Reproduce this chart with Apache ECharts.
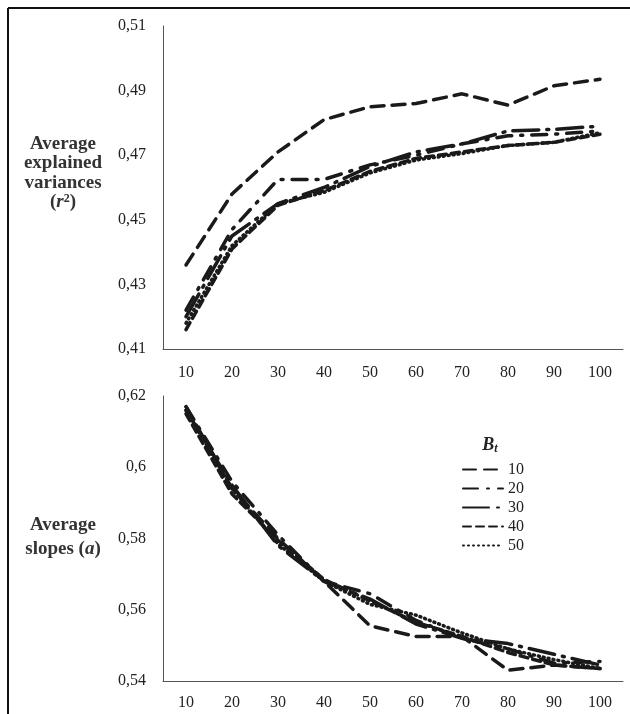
<!DOCTYPE html>
<html>
<head>
<meta charset="utf-8">
<script src="https://cdn.jsdelivr.net/npm/echarts@6/dist/echarts.min.js"></script>
<style>
  html, body { margin: 0; padding: 0; background: #fff; }
  #chart { width: 630px; height: 714px; }
</style>
</head>
<body>
<div id="chart"></div>
<script>
// data
var categories = ['10', '20', '30', '40', '50', '60', '70', '80', '90', '100'];
var seriesNames = ['10', '20', '30', '40', '50'];

// average explained variances (r2)
var r2_10 = [0.436, 0.458, 0.471, 0.481, 0.485, 0.486, 0.489, 0.4855, 0.4915, 0.4935];
var r2_20 = [0.422, 0.447, 0.4625, 0.4625, 0.467, 0.470, 0.4735, 0.476, 0.4765, 0.4775];
var r2_30 = [0.420, 0.445, 0.455, 0.460, 0.4665, 0.471, 0.4735, 0.4775, 0.478, 0.479];
var r2_40 = [0.416, 0.441, 0.4545, 0.459, 0.465, 0.469, 0.471, 0.473, 0.474, 0.4765];
var r2_50 = [0.418, 0.442, 0.455, 0.4585, 0.4645, 0.4685, 0.4705, 0.473, 0.474, 0.477];

// average slopes (a)
var a_10 = [0.617, 0.594, 0.580, 0.568, 0.5555, 0.5525, 0.5525, 0.543, 0.5445, 0.5435];
var a_20 = [0.617, 0.596, 0.581, 0.568, 0.5645, 0.557, 0.552, 0.549, 0.545, 0.5455];
var a_30 = [0.616, 0.595, 0.578, 0.568, 0.563, 0.556, 0.552, 0.5505, 0.5475, 0.5445];
var a_40 = [0.615, 0.5925, 0.5795, 0.5685, 0.5625, 0.5565, 0.5525, 0.548, 0.5445, 0.5435];
var a_50 = [0.616, 0.594, 0.5785, 0.568, 0.5615, 0.5585, 0.5535, 0.549, 0.546, 0.5435];

var r2Data = [r2_10, r2_20, r2_30, r2_40, r2_50];
var aData = [a_10, a_20, a_30, a_40, a_50];

// dash patterns for Bt = 10..50
var dashes = [[13, 8], [15, 9, 2, 9], [26, 8, 2, 8], [8, 5], [1, 4]];

var font = '"Liberation Serif", "DejaVu Serif", serif';
var ink = '#1a1a1a';
var axisLine = {show: true, lineStyle: {color: '#555', width: 1}};

function fmt(v) {
    return String(+v.toFixed(2)).replace('.', ',');
}

function xAxis(idx, margin) {
    return {
        type: 'category',
        gridIndex: idx,
        data: categories,
        boundaryGap: true,
        axisLine: axisLine,
        axisTick: {show: false},
        axisLabel: {color: '#222', fontFamily: font, fontSize: 16, margin: margin}
    };
}

function yAxis(idx, min, max) {
    return {
        type: 'value',
        gridIndex: idx,
        min: min,
        max: max,
        interval: 0.02,
        axisLine: axisLine,
        axisTick: {show: false},
        splitLine: {show: false},
        axisLabel: {color: '#222', fontFamily: font, fontSize: 16, margin: 17, formatter: fmt}
    };
}

var series = [];
for (var i = 0; i < seriesNames.length; i++) {
    var ls = {color: ink, width: 3.5, type: dashes[i], cap: 'round'};
    series.push({
        name: seriesNames[i], type: 'line', xAxisIndex: 0, yAxisIndex: 0,
        data: r2Data[i], symbol: 'none', lineStyle: ls, itemStyle: {color: ink}
    });
    series.push({
        name: seriesNames[i], type: 'line', xAxisIndex: 1, yAxisIndex: 1,
        data: aData[i], symbol: 'none', lineStyle: ls, itemStyle: {color: ink}
    });
}

var nameStyle = {
    fontFamily: font,
    fontWeight: 'bold',
    fontSize: 19,
    fill: '#333'
};

var option = {
    animation: false,
    backgroundColor: '#fff',
    grid: [
        {left: 163, top: 26, width: 460, height: 323},
        {left: 163, top: 396, width: 460, height: 285}
    ],
    xAxis: [xAxis(0, 16), xAxis(1, 14)],
    yAxis: [yAxis(0, 0.41, 0.51), yAxis(1, 0.54, 0.62)],
    legend: {
        data: seriesNames,
        orient: 'vertical',
        left: 457,
        top: 456,
        itemWidth: 40,
        itemHeight: 12,
        itemGap: 2,
        itemStyle: {opacity: 0},
        textStyle: {color: '#222', fontFamily: font, fontSize: 16, lineHeight: 17}
    },
    graphic: [
        {type: 'line', shape: {x1: 8, y1: 8, x2: 630, y2: 8}, style: {stroke: '#111', lineWidth: 2}},
        {type: 'line', shape: {x1: 8, y1: 8, x2: 8, y2: 714}, style: {stroke: '#111', lineWidth: 2}},
        {
            type: 'text',
            style: Object.assign({}, nameStyle, {
                text: 'Average\nexplained\nvariances\n({r|r}{s|2})',
                x: 63, y: 134, textAlign: 'center', lineHeight: 19.5,
                rich: {
                    r: {fontStyle: 'italic', fontWeight: 'bold', fontSize: 19, fontFamily: font, lineHeight: 19.5},
                    s: {fontSize: 12, fontWeight: 'bold', fontFamily: font, verticalAlign: 'top', lineHeight: 19.5, padding: [0, 0, 6, 0]}
                }
            })
        },
        {
            type: 'text',
            style: Object.assign({}, nameStyle, {
                text: 'Average\nslopes ({a|a})',
                x: 63, y: 513, textAlign: 'center', lineHeight: 24,
                rich: {
                    a: {fontStyle: 'italic', fontWeight: 'bold', fontSize: 19, fontFamily: font, lineHeight: 24}
                }
            })
        },
        {
            type: 'text',
            style: {
                text: '{b|B}{t|t}',
                x: 490, y: 435, textAlign: 'center',
                rich: {
                    b: {fontFamily: font, fontStyle: 'italic', fontWeight: 'bold', fontSize: 18, fill: '#222'},
                    t: {fontFamily: font, fontStyle: 'italic', fontWeight: 'bold', fontSize: 12, fill: '#222', padding: [8, 0, 0, 0]}
                }
            }
        }
    ],
    series: series
};

var chart = echarts.init(document.getElementById('chart'));
chart.setOption(option);
</script>
</body>
</html>
